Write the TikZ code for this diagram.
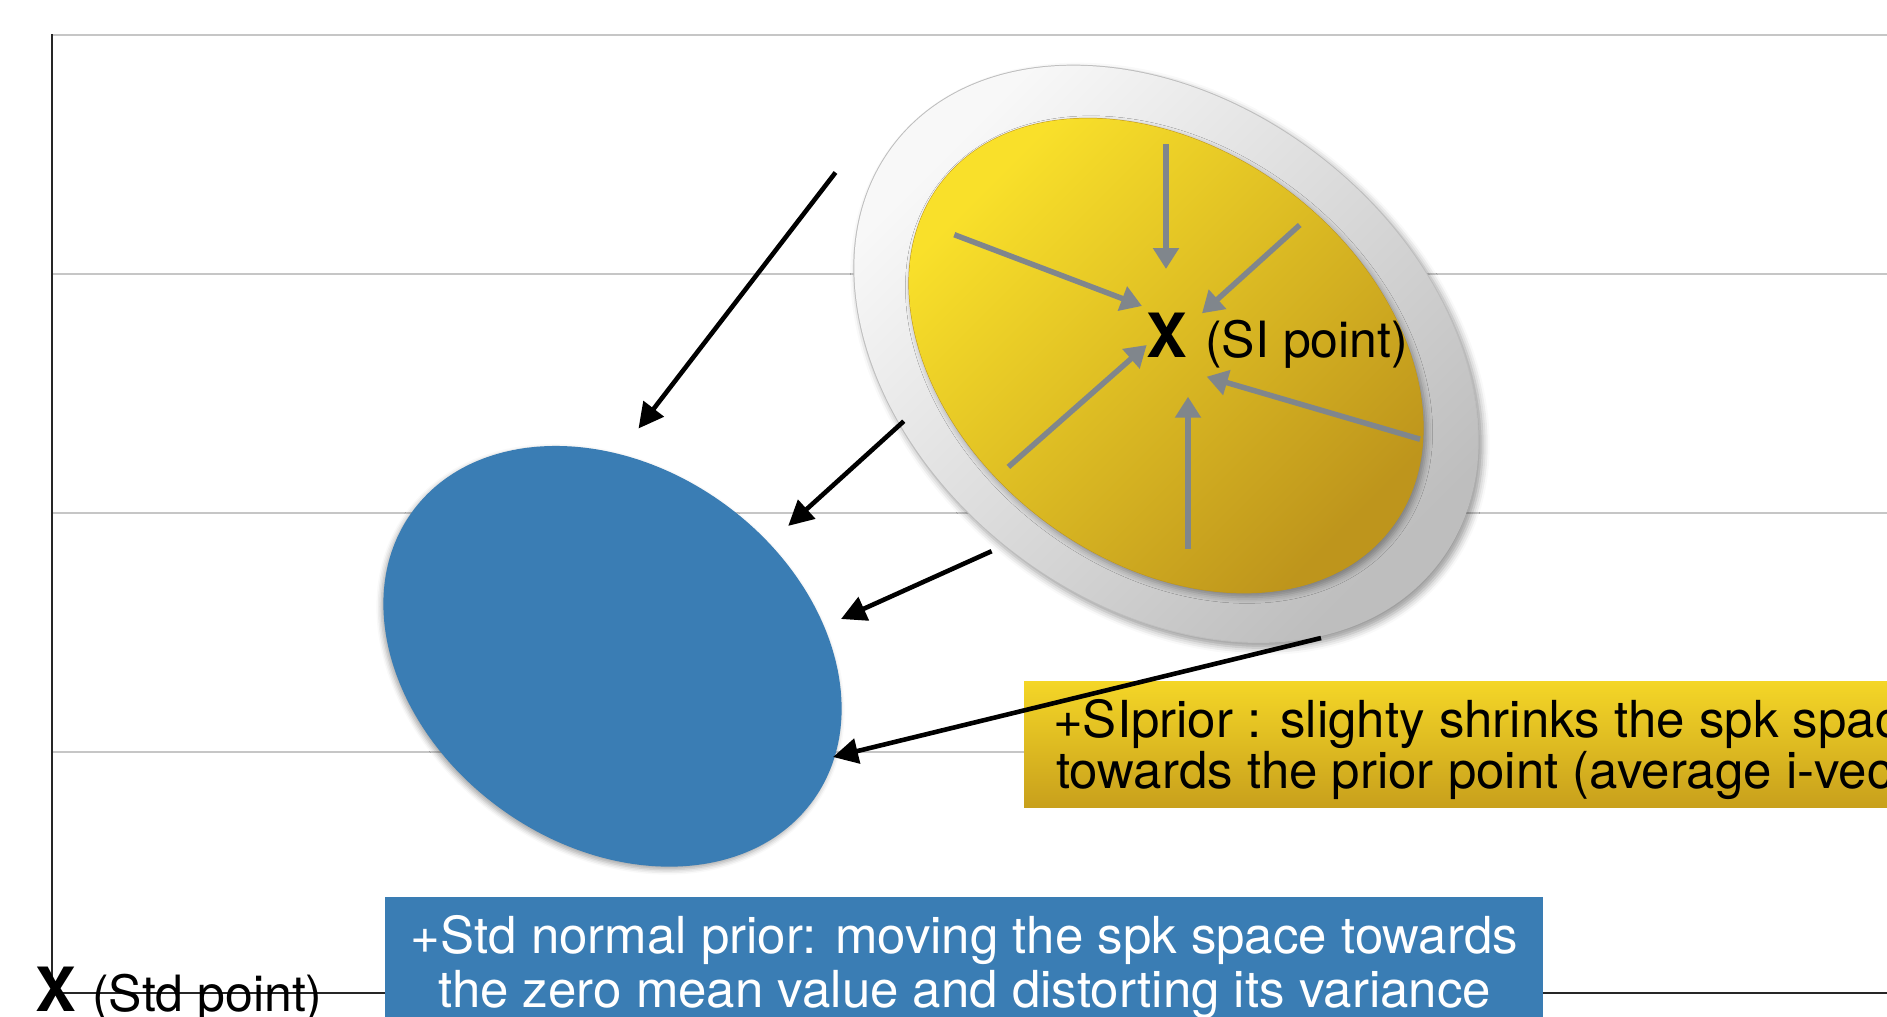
\documentclass[tikz,border=0pt]{standalone}
\usepackage{fontspec}
\setmainfont{TeX Gyre Heros}
\usetikzlibrary{shapes.geometric,arrows.meta,shadows.blur}

\definecolor{gridgray}{HTML}{C6C6C6}
\definecolor{spkblue}{HTML}{3A7DB4}
\definecolor{arrowgray}{HTML}{80868C}
\definecolor{haloA}{HTML}{F8F8F8}
\definecolor{haloB}{HTML}{BEBEBE}
\definecolor{yelA}{HTML}{F9E02A}
\definecolor{yelB}{HTML}{BE951C}
\definecolor{boxyelA}{HTML}{F4D627}
\definecolor{boxyelB}{HTML}{C8A01C}

\begin{document}
\begin{tikzpicture}[x=1pt,y=-1pt,
  gridline/.style={gridgray, line width=2pt},
  axisline/.style={black!85, line width=2.4pt},
  shrinkarrow/.style={arrowgray, line width=5.5pt, -{Triangle[length=21pt,width=25pt]}},
  movearrow/.style={black, line width=4.6pt, -{Triangle[length=25pt,width=25pt]}},
  blob/.style={ellipse, inner sep=0pt, draw=none},
  boxtext/.style={inner sep=0pt, font=\fontsize{51}{54}\selectfont},
  ptlabel/.style={inner sep=0pt, anchor=base west, font=\fontsize{50}{54}\selectfont},
  ptmark/.style={inner sep=0pt, anchor=base west, font=\bfseries\fontsize{61}{64}\selectfont}
]
\useasboundingbox (0,0) rectangle (1887,1017);
\clip (0,0) rectangle (1887,1017);

% horizontal grid
\foreach \gy in {35,274.4,512.7,752.1}
  \draw[gridline] (52,\gy) -- (1887,\gy);

% axes
\coordinate (ytop) at (52,34);
\coordinate (origin) at (52,993);
\coordinate (xend) at (1887,993);
\draw[axisline] (ytop) -- (origin) -- (xend);

% speaker space after the standard normal prior
\node[blob, minimum width=494pt, minimum height=378pt, rotate=-35.5,
      fill=spkblue,
      blur shadow={shadow xshift=-2pt, shadow yshift=-3pt, shadow blur radius=5pt, shadow opacity=35}]
      (stdspace) at (612.5,656.3) {};

% original speaker space: halo with a diagonal light-to-grey gradient
\node[blob, minimum width=688pt, minimum height=502pt, rotate=-37.6,
      fill=haloB,
      blur shadow={shadow xshift=4pt, shadow yshift=-5pt, shadow blur radius=7pt, shadow opacity=40}]
      (halo) at (1166,353.8) {};
\begin{scope}
  \clip[rotate around={-37.6:(1166,353.8)}] (1166,353.8) ellipse [x radius=343pt, y radius=250pt];
  \shade[top color=haloA, bottom color=haloB, shading angle=45] (853,64) rectangle (1479,644);
\end{scope}

% yellow core with the same diagonal gradient
\node[blob, minimum width=568pt, minimum height=411pt, rotate=-37.6,
      fill=yelB,
      blur shadow={shadow xshift=3pt, shadow yshift=-4pt, shadow blur radius=6pt, shadow opacity=35}]
      (sispace) at (1166,355.6) {};
\begin{scope}
  \clip[rotate around={-37.6:(1166,355.6)}] (1166,355.6) ellipse [x radius=283.5pt, y radius=205pt];
  \shade[top color=yelA, bottom color=yelB, shading angle=45] (906,117) rectangle (1426,595);
\end{scope}

% shrinking towards the SI point
\coordinate (g1s) at (1166,144.4);   \coordinate (g1e) at (1166,269);
\coordinate (g2s) at (954.3,234.7);  \coordinate (g2e) at (1142,306);
\coordinate (g3s) at (1299.7,225);   \coordinate (g3e) at (1202,313.3);
\coordinate (g4s) at (1008.4,466.9); \coordinate (g4e) at (1146.7,345);
\coordinate (g5s) at (1188,548.7);   \coordinate (g5e) at (1188,396.7);
\coordinate (g6s) at (1420,439.2);   \coordinate (g6e) at (1206.7,376.7);
\foreach \k in {1,...,6}
  \draw[shrinkarrow] (g\k s) -- (g\k e);

\node[ptmark] (sixmark) at (1146,357) {X};
\node[ptlabel] (silabel) at (1205,357) {(SI point)};

% caption boxes
\fill[spkblue] (385,896.5) rectangle (1543,1030);
\shade[top color=boxyelA, bottom color=boxyelB] (1024,681) rectangle (1900,807.5);

\node[boxtext, anchor=base, text=white] (stdA) at (964.5,953) {+Std normal prior: moving the spk space towards};
\node[boxtext, anchor=base, text=white] (stdB) at (964.5,1007) {the zero mean value and distorting its variance};
\node[boxtext, anchor=base west] (siA) at (1053,737) {+SIprior : slighty shrinks the spk spac};
\node[boxtext, anchor=base west] (siB) at (1056,788) {towards the prior point (average i-vec};

% movement of the speaker space
\coordinate (m1s) at (835.5,172.5);  \coordinate (m1e) at (638.5,428.5);
\coordinate (m2s) at (903.8,421.2);  \coordinate (m2e) at (788.2,525.9);
\coordinate (m3s) at (991.6,551.2);  \coordinate (m3e) at (841,619);
\coordinate (m4s) at (1321,638);     \coordinate (m4e) at (833,757);
\foreach \k in {1,...,4}
  \draw[movearrow] (m\k s) -- (m\k e);

% standard point at the origin
\node[ptmark] (stdmark) at (35,1011) {X};
\node[ptlabel] (stdlabel) at (92,1011) {(Std point)};
\end{tikzpicture}
\end{document}
